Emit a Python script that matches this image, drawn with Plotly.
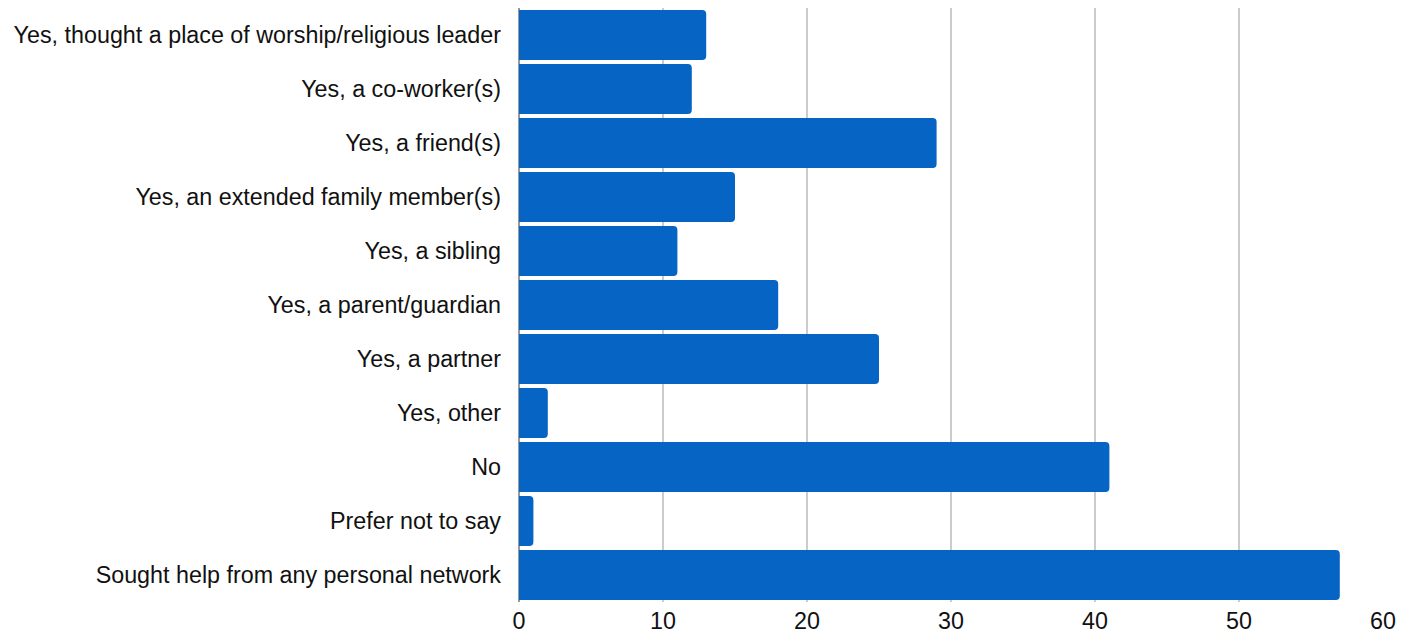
import plotly.graph_objects as go

categories = [
    "Yes, thought a place of worship/religious leader",
    "Yes, a co-worker(s)",
    "Yes, a friend(s)",
    "Yes, an extended family member(s)",
    "Yes, a sibling",
    "Yes, a parent/guardian",
    "Yes, a partner",
    "Yes, other",
    "No",
    "Prefer not to say",
    "Sought help from any personal network",
]
values = [13, 12, 29, 15, 11, 18, 25, 2, 41, 1, 57]
x_ticks = [0, 10, 20, 30, 40, 50, 60]

fig = go.Figure(go.Bar(
    y=categories, x=values, orientation="h",
    marker=dict(color="#0664C4", line=dict(width=0)),
))
fig.update_layout(
    width=1407, height=626,
    margin=dict(l=511, r=32, t=0, b=32),
    plot_bgcolor="white", paper_bgcolor="white",
    bargap=0.07, barcornerradius=4,
    font=dict(family="Liberation Sans, Arial, sans-serif", size=23.3, color="#111"),
    showlegend=False,
)
fig.update_xaxes(
    range=[0, 60], tickvals=x_ticks, showgrid=True, gridcolor="#cccccc", gridwidth=1.5,
    zeroline=True, zerolinecolor="#999999", zerolinewidth=1.5,
    tickfont=dict(size=23.3), ticks="", ticklabelstandoff=3, fixedrange=True,
    automargin=False,
)
fig.update_yaxes(
    categoryorder="array", categoryarray=categories[::-1], autorange=True,
    ticks="", ticklabelstandoff=17, tickfont=dict(size=23.3), showgrid=False,
    automargin=False,
)
fig.write_html("out.html")
